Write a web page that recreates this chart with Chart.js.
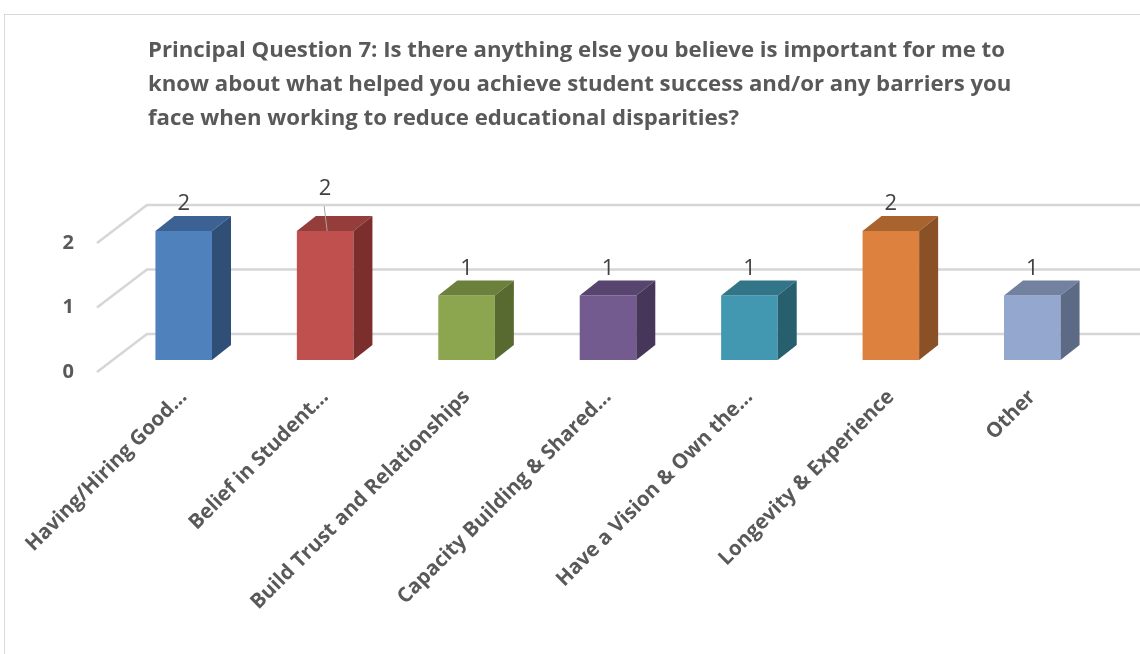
<!DOCTYPE html>
<html>
<head>
<meta charset="utf-8">
<script src="https://cdn.jsdelivr.net/npm/chart.js@4.4.0/dist/chart.umd.min.js"></script>
<style>
  html, body { margin: 0; padding: 0; background: #fff; overflow: hidden; }
  #marco { position: absolute; left: 4px; top: 14px; width: 1200px; height: 700px; border: 1px solid #d9d9d9; }
  #contenedor { position: absolute; left: 0; top: 0; width: 1140px; height: 654px; }
</style>
</head>
<body>
<div id="marco"></div>
<div id="contenedor"><canvas id="grafico" width="1140" height="654"></canvas></div>
<script>
// Datos de la pregunta 7
const categorias = [
  "Having/Hiring Good...",
  "Belief in Student...",
  "Build Trust and Relationships",
  "Capacity Building & Shared...",
  "Have a Vision & Own the...",
  "Longevity & Experience",
  "Other"
];
const valores = [2, 2, 1, 1, 1, 2, 1];
const ticksY = [0, 1, 2];
const titulo = [
  "Principal Question 7: Is there anything else you believe is important for me to",
  "know about what helped you achieve student success and/or any barriers you",
  "face when working to reduce educational disparities?"
];

// Colores de cada barra: cara frontal, cara superior y lateral
const coloresFrente = ["#4f81bd", "#c0504d", "#8ba64e", "#735a8f", "#4298b0", "#dc823e", "#94a8cf"];
const coloresArriba = ["#3c6193", "#953d3a", "#6b803b", "#58456f", "#337588", "#a8632f", "#72819f"];
const coloresLado = ["#2f4f77", "#7b2e2c", "#586a30", "#46375a", "#275f6f", "#8a5026", "#5d6a85"];

// profundidad de las barras y de la pared del fondo
const PROF_X = 19, PROF_Y = -15;
const PARED_FRENTE = 16, PARED_FONDO = 34, PARED_ARRIBA = 26, PARED_ABAJO = 12;

const fondo3D = {
  id: 'fondo3D',
  beforeDatasetsDraw(chart) {
    const ctx = chart.ctx;
    const y = chart.scales.y;
    const izq = chart.chartArea.left;
    ctx.save();
    ctx.strokeStyle = '#d6d6d6';
    ctx.lineWidth = 2.5;
    ticksY.forEach(v => {
      const py = y.getPixelForValue(v);
      ctx.beginPath();
      ctx.moveTo(izq - PARED_FRENTE, py + PARED_ABAJO);
      ctx.lineTo(izq + PARED_FONDO, py - PARED_ARRIBA);
      ctx.lineTo(chart.width + 5, py - PARED_ARRIBA);
      ctx.stroke();
    });
    ctx.restore();
  }
};

const barras3D = {
  id: 'barras3D',
  afterDatasetsDraw(chart) {
    const ctx = chart.ctx;
    const meta = chart.getDatasetMeta(0);
    ctx.save();
    meta.data.forEach((bar, i) => {
      const l = bar.x - bar.width / 2;
      const r = bar.x + bar.width / 2;
      const t = bar.y;
      const b = bar.base;
      // cara superior
      ctx.fillStyle = coloresArriba[i];
      ctx.beginPath();
      ctx.moveTo(l, t);
      ctx.lineTo(l + PROF_X, t + PROF_Y);
      ctx.lineTo(r + PROF_X, t + PROF_Y);
      ctx.lineTo(r, t);
      ctx.closePath();
      ctx.fill();
      // cara lateral
      ctx.fillStyle = coloresLado[i];
      ctx.beginPath();
      ctx.moveTo(r, t);
      ctx.lineTo(r + PROF_X, t + PROF_Y);
      ctx.lineTo(r + PROF_X, b + PROF_Y);
      ctx.lineTo(r, b);
      ctx.closePath();
      ctx.fill();
    });

    // etiquetas de valor
    ctx.font = '400 22px "Open Sans"';
    ctx.fillStyle = '#404040';
    ctx.textAlign = 'center';
    ctx.textBaseline = 'middle';
    meta.data.forEach((bar, i) => {
      let ly = bar.y + PROF_Y - 12;
      if (i === 1) {
        // etiqueta desplazada con línea guía
        ly -= 15;
        ctx.strokeStyle = '#a6a6a6';
        ctx.lineWidth = 1;
        ctx.beginPath();
        ctx.moveTo(bar.x - 1, ly + 17);
        ctx.lineTo(bar.x + 2, bar.y);
        ctx.stroke();
      }
      ctx.fillText(String(valores[i]), bar.x, ly);
    });
    ctx.restore();
  }
};

const tituloPlugin = {
  id: 'tituloPlugin',
  afterDraw(chart) {
    const ctx = chart.ctx;
    ctx.save();
    ctx.font = 'bold 22.2px "Open Sans"';
    ctx.fillStyle = '#595959';
    ctx.textAlign = 'left';
    ctx.textBaseline = 'middle';
    titulo.forEach((linea, i) => ctx.fillText(linea, 148, 51 + i * 34));
    ctx.restore();
  }
};

const ctx = document.getElementById('grafico').getContext('2d');
const grafico = new Chart(ctx, {
  type: 'bar',
  data: {
    labels: categorias,
    datasets: [{
      data: valores,
      backgroundColor: coloresFrente,
      borderWidth: 0,
      barPercentage: 0.8,
      categoryPercentage: 0.5
    }]
  },
  options: {
    responsive: false,
    animation: false,
    layout: { padding: { left: 0, right: 37, top: 231, bottom: 0 } },
    plugins: {
      legend: { display: false },
      tooltip: { enabled: false }
    },
    scales: {
      x: {
        grid: { display: false },
        border: { display: false },
        ticks: {
          autoSkip: false,
          minRotation: 45,
          maxRotation: 45,
          padding: 17,
          color: '#595959',
          font: { family: '"Open Sans"', size: 20.5, weight: 'bold' }
        },
        afterFit(scale) { scale.height = 294; }
      },
      y: {
        min: 0,
        max: 2,
        grid: { display: false },
        border: { display: false },
        ticks: {
          stepSize: 1,
          padding: 31,
          labelOffset: 12,
          color: '#595959',
          font: { family: '"Open Sans"', size: 20, weight: 'bold' }
        },
        afterFit(scale) { scale.width = 113; }
      }
    }
  },
  plugins: [fondo3D, barras3D, tituloPlugin]
});
</script>
</body>
</html>
